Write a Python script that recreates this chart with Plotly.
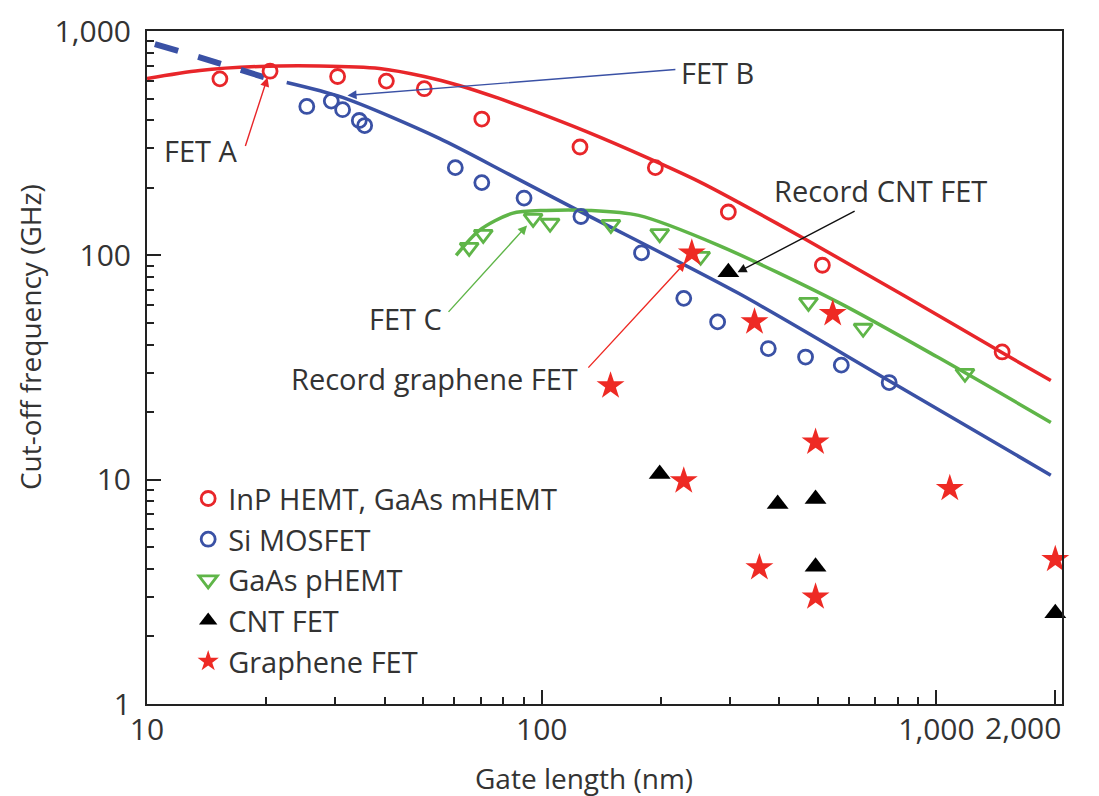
import numpy as np
import plotly.graph_objects as go

# ---------------- data (gate length nm, cut-off frequency GHz) ----------------
inp_x = [15.3, 20.5, 30.4, 40.4, 50.4, 70.5, 125, 194, 297, 514, 1467]
inp_y = [612, 662, 627, 598, 553, 405, 304, 246, 156, 90.3, 37.1]

si_x = [25.4, 29.3, 31.3, 34.5, 35.6, 60.4, 70.5, 90.2, 125.7, 179, 229, 279, 375, 466, 574, 759]
si_y = [461, 487, 446, 399, 379, 246, 211, 180, 149, 102.6, 64.3, 50.5, 38.4, 35.2, 32.4, 27.1]

gaas_x = [65.5, 71.1, 95.1, 105, 149.7, 199, 252.7, 474, 652, 1181]
gaas_y = [108.5, 124, 146, 139, 137.4, 125, 99, 61.7, 47.3, 29.8]

cnt_x = [297, 199, 396, 494, 494, 2000]
cnt_y = [84, 10.6, 7.78, 8.19, 4.09, 2.535]

gr_x = [240, 149.4, 229, 346, 356, 494, 494, 546, 1081, 2000]
gr_y = [102.4, 26.2, 9.88, 50.5, 4.05, 14.7, 3.0, 55, 9.14, 4.41]

# model curves
red_curve_x = [10, 13.61, 19.30, 27.36, 38.80, 50.41, 61.80, 78.0, 94.52, 129.4, 186.7, 249.8, 315.2, 465.5, 833.0, 1490.6, 1948.5]
red_curve_y = [614.2, 667.0, 694.9, 698.5, 680.8, 627.0, 571.8, 500.4, 442.4, 356.7, 270.4, 213.6, 172.2, 117.9, 65.7, 36.2, 27.7]

blue_dash_x = [10.47, 14.4, 19.9]
blue_dash_y = [875, 740, 621]
blue_curve_x = [22.59, 31.28, 55.02, 82.67, 126.4, 315.2, 754.6, 1948.5]
blue_curve_y = [589.5, 505.6, 332.0, 229.5, 155.4, 67.7, 27.75, 10.47]

green_curve_x = [60.7, 69.4, 84.1, 102.6, 131.7, 176, 280.6, 564, 1009, 1949]
green_curve_y = [100, 129, 153.8, 158.6, 158.6, 150.7, 110.8, 61.7, 35.1, 18.0]

x_ticks = [10, 100, 1000, 2000]
x_ticktext = ["10", "100", "1,000", ""]
x_last_label = "2,000"
x_minor = [20, 30, 40, 50, 60, 70, 80, 90, 200, 300, 400, 500, 600, 700, 800, 900]
y_ticks = [1, 10, 100, 1000]
y_ticktext = ["1", "10", "100", "1,000"]
y_minor = [2, 3, 4, 5, 6, 7, 8, 9, 20, 30, 40, 50, 60, 70, 80, 90, 200, 300, 400, 500, 600, 700, 800, 900]

RED = "#e8262a"
BLUE = "#3a51a5"
GREEN = "#5fb548"
STAR = "#ee2a24"
TXT = "#333333"
FONT = "Open Sans"

fig = go.Figure()

# curves
fig.add_trace(go.Scatter(x=red_curve_x, y=red_curve_y, mode="lines",
                         line=dict(color=RED, width=3.5, shape="spline", smoothing=0.8),
                         showlegend=False, hoverinfo="skip"))
fig.add_trace(go.Scatter(x=blue_dash_x, y=blue_dash_y, mode="lines",
                         line=dict(color=BLUE, width=6, dash="24px,21px", shape="spline"),
                         showlegend=False, hoverinfo="skip"))
fig.add_trace(go.Scatter(x=blue_curve_x, y=blue_curve_y, mode="lines",
                         line=dict(color=BLUE, width=3.5, shape="spline", smoothing=0.8),
                         showlegend=False, hoverinfo="skip"))
fig.add_trace(go.Scatter(x=green_curve_x, y=green_curve_y, mode="lines",
                         line=dict(color=GREEN, width=3.5, shape="spline", smoothing=0.8),
                         showlegend=False, hoverinfo="skip"))

# data points
fig.add_trace(go.Scatter(x=inp_x, y=inp_y, mode="markers", name="InP HEMT, GaAs mHEMT",
                         marker=dict(symbol="circle-open", size=14, color=RED, line=dict(width=2.8, color=RED)),
                         cliponaxis=False))
fig.add_trace(go.Scatter(x=si_x, y=si_y, mode="markers", name="Si MOSFET",
                         marker=dict(symbol="circle-open", size=14, color=BLUE, line=dict(width=2.8, color=BLUE)),
                         cliponaxis=False))
fig.add_trace(go.Scatter(x=gaas_x, y=gaas_y, mode="markers", name="GaAs pHEMT",
                         marker=dict(symbol="triangle-down-open", size=16, color=GREEN, line=dict(width=2.8, color=GREEN)),
                         cliponaxis=False))
fig.add_trace(go.Scatter(x=cnt_x, y=cnt_y, mode="markers", name="CNT FET",
                         marker=dict(symbol="triangle-up", size=19, color="black", line=dict(width=0)),
                         cliponaxis=False))
fig.add_trace(go.Scatter(x=gr_x, y=gr_y, mode="markers", name="Graphene FET",
                         marker=dict(symbol="star", size=21, color=STAR, line=dict(width=0)),
                         cliponaxis=False))

# annotations: (text, text_x, text_y, tail_x, tail_y, tip_x, tip_y, color)
labels = [
    ("FET A", 13.7, 293.6, 17.7, 302.7, 20.2, 620.8, RED),
    ("FET B", 279, 653, 220, 674, 32.2, 516, BLUE),
    ("FET C", 45.1, 52.4, 57.6, 55.1, 91.8, 136, GREEN),
    ("Record graphene FET", 53.4, 28.3, 130.2, 31.1, 231.5, 93.1, STAR),
    ("Record CNT FET", 720, 194.8, 626, 158.6, 313.4, 84.0, "#111111"),
]
annotations = []
for text, tx, ty, ax_, ay_, px, py, col in labels:
    annotations.append(dict(x=np.log10(px), y=np.log10(py), ax=np.log10(ax_), ay=np.log10(ay_),
                            xref="x", yref="y", axref="x", ayref="y", text="", showarrow=True,
                            arrowhead=2, arrowsize=1.3, arrowwidth=1.4, arrowcolor=col,
                            standoff=0, startstandoff=0))
    annotations.append(dict(x=np.log10(tx), y=np.log10(ty), xref="x", yref="y", text=text, showarrow=False,
                            font=dict(family=FONT, size=29, color=TXT), xanchor="center", yanchor="middle"))

# last x tick label, nudged left of its tick as in the original
annotations.append(dict(x=np.log10(x_ticks[-1]), y=-0.0345, xref="x", yref="paper", text=x_last_label,
                        showarrow=False, xshift=-32, font=dict(family=FONT, size=30, color=TXT),
                        xanchor="center", yanchor="middle"))

annotations.append(dict(x=-0.128, y=0.545, xref="paper", yref="paper", text="Cut-off frequency (GHz)",
                        textangle=-90, showarrow=False, font=dict(family=FONT, size=28, color=TXT),
                        xanchor="center", yanchor="middle"))
annotations.append(dict(x=0.4776, y=-0.11, xref="paper", yref="paper", text="Gate length (nm)",
                        showarrow=False, font=dict(family=FONT, size=28, color=TXT),
                        xanchor="center", yanchor="middle"))

fig.update_layout(
    width=1091, height=788,
    margin=dict(l=139, r=37, t=23, b=92, autoexpand=False),
    paper_bgcolor="white", plot_bgcolor="white",
    font=dict(family=FONT, size=29, color=TXT),
    showlegend=True,
    legend=dict(x=0.045, y=0.343, xanchor="left", yanchor="top", bgcolor="rgba(0,0,0,0)",
                font=dict(family=FONT, size=29, color=TXT), itemwidth=30),
    annotations=annotations,
)

fig.update_xaxes(type="log", range=[1, np.log10(2080)], tickvals=x_ticks, ticktext=x_ticktext,
                 ticks="inside", ticklen=14, tickwidth=2, tickcolor="#222222", automargin=False,
                 showline=True, linecolor="#222222", linewidth=2, mirror=True, showgrid=False, zeroline=False,
                 tickfont=dict(family=FONT, size=30, color=TXT), ticklabelstandoff=-2,
                 minor=dict(tickvals=x_minor, ticks="inside", ticklen=7, tickwidth=2, tickcolor="#222222", showgrid=False))
fig.update_yaxes(type="log", range=[0, 3], tickvals=y_ticks, ticktext=y_ticktext,
                 ticks="inside", ticklen=14, tickwidth=2, tickcolor="#222222", automargin=False,
                 showline=True, linecolor="#222222", linewidth=2, mirror=True, showgrid=False, zeroline=False,
                 tickfont=dict(family=FONT, size=30, color=TXT), ticklabelstandoff=8,
                 ticklabeloverflow="allow",
                 minor=dict(tickvals=y_minor, ticks="inside", ticklen=7, tickwidth=2, tickcolor="#222222", showgrid=False))

fig.write_html("out.html")
